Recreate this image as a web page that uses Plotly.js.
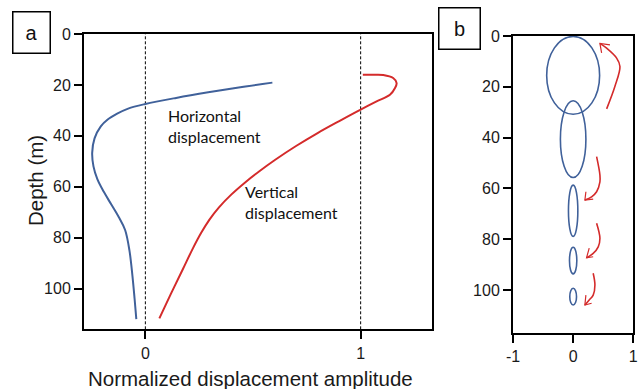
<!DOCTYPE html>
<html>
<head>
<meta charset="utf-8">
<script src="https://cdn.plot.ly/plotly-3.0.1.min.js"></script>
<style>
  html, body { margin: 0; padding: 0; background: #fff; }
  #chart { width: 643px; height: 389px; }
</style>
</head>
<body>
<div id="chart"></div>
<script>
// Panel a: normalized displacement amplitude vs depth
const horizDepth = [19.1, 20.9, 22.9, 25.1, 27.5, 29.3, 31.3, 33.6, 36.3, 41.0, 46.7, 52.0, 57.0, 62.0, 67.0, 72.0, 77.0, 85.0, 95.0, 104.0, 112.0];
const horizAmp   = [0.59, 0.441, 0.292, 0.143, 0.0, -0.08, -0.131, -0.175, -0.207, -0.236, -0.247, -0.241, -0.223, -0.193, -0.158, -0.123, -0.094, -0.074, -0.06, -0.05, -0.042];

const vertDepth = [16.0, 16.0, 16.1, 17.3, 19.3, 21.3, 23.9, 26.5, 29.7, 34.0, 38.9, 44.0, 49.3, 54.0, 58.4, 63.0, 68.0, 73.0, 78.0, 84.0, 92.4, 102.0, 111.7];
const vertAmp   = [1.01, 1.06, 1.105, 1.151, 1.167, 1.159, 1.136, 1.074, 1.0, 0.905, 0.80, 0.70, 0.605, 0.528, 0.462, 0.40, 0.343, 0.297, 0.26, 0.222, 0.174, 0.119, 0.065];

const refLines = [0, 1];

// Panel b: particle orbit ellipses (centre depth, half-width, half-height)
const orbitDepth = [15.5, 40.6, 68.8, 88.4, 102.6];
const orbitHalfX = [0.44, 0.212, 0.078, 0.061, 0.056];
const orbitHalfD = [15.3, 15.1, 10.1, 5.25, 3.3];

// Motion-direction arrows: paths and arrowhead arms
const arrowPathX = [
  [0.557, 0.695, 0.778, 0.723, 0.557, 0.445],
  [0.39, 0.445, 0.445, 0.39, 0.307, 0.195],
  [0.39, 0.445, 0.417, 0.333, 0.223],
  [0.333, 0.362, 0.333, 0.267, 0.195]
];
const arrowPathD = [
  [28.7, 19.8, 12.0, 8.7, 4.8, 2.9],
  [47.5, 54.7, 57.4, 61.3, 63.3, 64.6],
  [73.7, 79.6, 83.0, 85.6, 87.3],
  [93.4, 98.0, 102.0, 103.9, 105.9]
];
const headX = [[0.612, 0.445, 0.473], [0.212, 0.195, 0.333], [0.267, 0.223, 0.333], [0.212, 0.195, 0.307]];
const headD = [[3.5, 2.9, 6.6], [61.3, 64.6, 64.2], [83.5, 87.3, 86.9], [102.0, 105.9, 105.2]];

const xTicksA = [0, 1];
const xTicksB = [-1, 0, 1];
const depthTicks = [0, 20, 40, 60, 80, 100];

const BLUE = '#40619a';
const RED = '#d42b2b';

const traces = [
  { x: horizAmp, y: horizDepth, xaxis: 'x', yaxis: 'y', mode: 'lines',
    line: { color: BLUE, width: 2, shape: 'spline', smoothing: 1 }, hoverinfo: 'none' },
  { x: vertAmp, y: vertDepth, xaxis: 'x', yaxis: 'y', mode: 'lines',
    line: { color: RED, width: 2, shape: 'spline', smoothing: 1 }, hoverinfo: 'none' }
];
arrowPathX.forEach((px, i) => {
  traces.push({ x: px, y: arrowPathD[i], xaxis: 'x2', yaxis: 'y2', mode: 'lines',
    line: { color: RED, width: 1.6, shape: 'spline', smoothing: 1 }, hoverinfo: 'none' });
  traces.push({ x: headX[i], y: headD[i], xaxis: 'x2', yaxis: 'y2', mode: 'lines',
    line: { color: RED, width: 1.2 }, hoverinfo: 'none' });
});

const shapes = [];
refLines.forEach(v => shapes.push({
  type: 'line', xref: 'x', yref: 'y domain', x0: v, x1: v, y0: 0, y1: 1,
  line: { color: '#000', width: 1, dash: '3px,2px' }, layer: 'below'
}));
orbitDepth.forEach((d, i) => shapes.push({
  type: 'circle', xref: 'x2', yref: 'y2',
  x0: -orbitHalfX[i], x1: orbitHalfX[i], y0: d - orbitHalfD[i], y1: d + orbitHalfD[i],
  line: { color: BLUE, width: 1.6 }
}));

const tickFont = { family: 'Liberation Sans, Arial, sans-serif', size: 16, color: '#1a1a1a' };
const titleFont = { family: 'Liberation Sans, Arial, sans-serif', size: 20.5, color: '#1a1a1a' };
const axisCommon = {
  showline: true, linecolor: '#000', linewidth: 2, mirror: true,
  ticks: 'outside', ticklen: 8, tickwidth: 2, tickcolor: '#000',
  showgrid: false, zeroline: false, tickfont: tickFont, fixedrange: true
};

const labelFont = { family: 'Lato, Open Sans, sans-serif', size: 16, color: '#111' };

const layout = {
  width: 643, height: 389,
  margin: { l: 0, r: 0, t: 0, b: 0 },
  paper_bgcolor: '#fff', plot_bgcolor: '#fff',
  showlegend: false,
  xaxis: Object.assign({}, axisCommon, {
    domain: [84 / 643, 431.7 / 643], range: [-0.285, 1.33],
    tickmode: 'array', tickvals: xTicksA, ticktext: xTicksA.map(String),
    anchor: 'y', automargin: false
  }),
  yaxis: Object.assign({}, axisCommon, {
    domain: [1 - 329.3 / 389, 1 - 34 / 389], range: [116, 0],
    tickmode: 'array', tickvals: depthTicks, ticktext: depthTicks.map(String),
    anchor: 'x', automargin: false
  }),
  xaxis2: Object.assign({}, axisCommon, {
    domain: [513 / 643, 633.3 / 643], range: [-1, 1],
    tickmode: 'array', tickvals: xTicksB, ticktext: xTicksB.map(String),
    anchor: 'y2', automargin: false
  }),
  yaxis2: Object.assign({}, axisCommon, {
    domain: [1 - 332.7 / 389, 1 - 36 / 389], range: [116.8, 0],
    tickmode: 'array', tickvals: depthTicks, ticktext: depthTicks.map(String),
    anchor: 'x2', automargin: false
  }),
  shapes: shapes,
  annotations: [
    // axis titles of panel a
    { xref: 'paper', yref: 'paper', x: 250.5 / 643, y: 1 - 378 / 389, xanchor: 'center', yanchor: 'middle',
      text: 'Normalized displacement amplitude', showarrow: false, font: titleFont },
    { xref: 'paper', yref: 'paper', x: 35 / 643, y: 1 - 181 / 389, xanchor: 'center', yanchor: 'middle',
      text: 'Depth (m)', textangle: -90, showarrow: false, font: titleFont },
    // curve labels
    { xref: 'x', yref: 'y', x: 0.095, y: 27.5, xanchor: 'left', yanchor: 'top', align: 'left',
      text: 'Horizontal<br>displacement', showarrow: false, font: labelFont },
    { xref: 'x', yref: 'y', x: 0.455, y: 57.5, xanchor: 'left', yanchor: 'top', align: 'left',
      text: 'Vertical<br>displacement', showarrow: false, font: labelFont },
    // panel letters
    { xref: 'paper', yref: 'paper', x: 31.8 / 643, y: 1 - 32.7 / 389, xanchor: 'center', yanchor: 'middle',
      text: 'a', showarrow: false, width: 34, height: 38, bordercolor: '#000', borderwidth: 1.5,
      font: { family: 'Liberation Sans, Arial, sans-serif', size: 20, color: '#111' } },
    { xref: 'paper', yref: 'paper', x: 459 / 643, y: 1 - 28.3 / 389, xanchor: 'center', yanchor: 'middle',
      text: 'b', showarrow: false, width: 38, height: 38, bordercolor: '#000', borderwidth: 1.5,
      font: { family: 'Liberation Sans, Arial, sans-serif', size: 20, color: '#111' } }
  ]
};

Plotly.newPlot('chart', traces, layout, { staticPlot: true, displayModeBar: false });
</script>
</body>
</html>
